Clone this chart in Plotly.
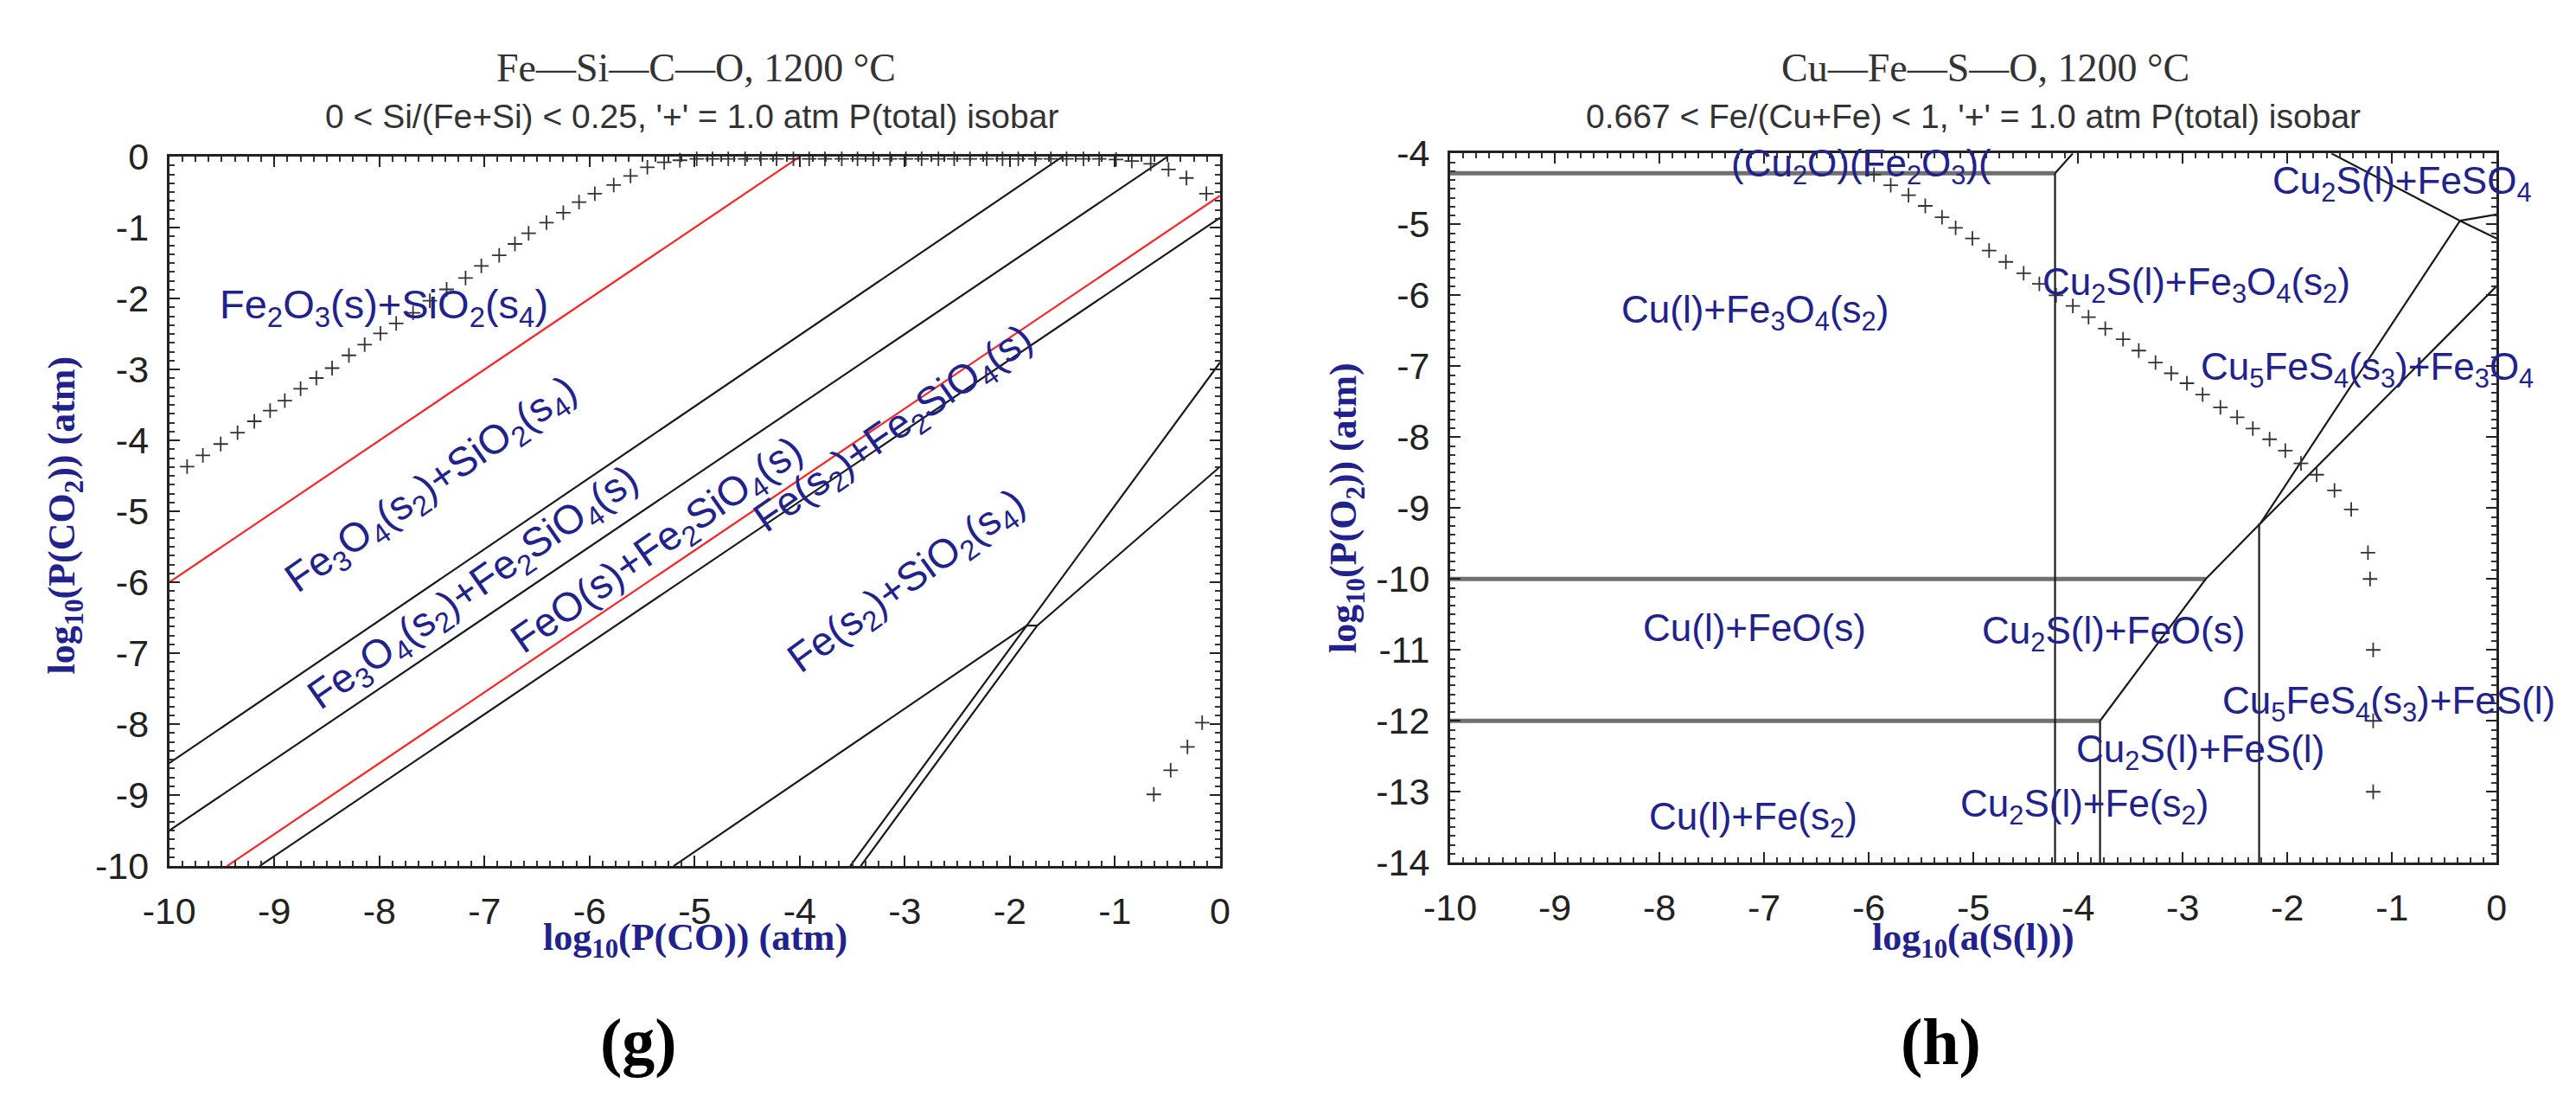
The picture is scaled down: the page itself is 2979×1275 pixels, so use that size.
import plotly.graph_objects as go

W, H = 2979, 1275

# ---------------- data: panel (g) Fe-Si-C-O ----------------
g_red1_x = [-10, -4.0]
g_red1_y = [-6.0, 0.0]
g_red2_x = [-9.45, 0.0]
g_red2_y = [-10.0, -0.55]
g_lineA_x = [-10, -1.5]
g_lineA_y = [-8.55, 0.0]
g_lineB_x = [-10, -0.5]
g_lineB_y = [-9.5, 0.0]
g_lineC_x = [-9.14, 0.0]
g_lineC_y = [-10.0, -0.86]
g_lineD_x = [-5.2, -1.84]
g_lineD_y = [-10.0, -6.61]
g_lineE_x = [-3.52, -1.84, 0.0]
g_lineE_y = [-10.0, -6.61, -2.9]
g_lineF_x = [-3.42, -1.74, 0.0]
g_lineF_y = [-10.0, -6.61, -4.37]
g_lineG_x = [-1.84, -1.74]
g_lineG_y = [-6.61, -6.61]

g_iso_x = [-9.83, -9.68, -9.51, -9.35, -9.19, -9.04, -8.90, -8.75, -8.60, -8.45,
           -8.29, -8.14, -7.99, -7.84, -7.68, -7.52, -7.36, -7.18, -7.03, -6.86,
           -6.71, -6.58, -6.41, -6.25, -6.10, -5.95, -5.77, -5.61, -5.45, -5.29,
           -5.14, -4.98, -4.83, -4.68, -4.52, -4.37, -4.22, -4.06, -3.91, -3.76,
           -3.60, -3.45, -3.30, -3.14, -2.99, -2.84, -2.68, -2.53, -2.38, -2.22,
           -2.07, -1.92, -1.76, -1.61, -1.46, -1.30, -1.15, -0.99, -0.84, -0.66,
           -0.49, -0.32, -0.13, -0.63, -0.47, -0.31, -0.17]
g_iso_y = [-4.37, -4.21, -4.05, -3.89, -3.73, -3.58, -3.44, -3.27, -3.12, -2.98,
           -2.80, -2.65, -2.49, -2.35, -2.20, -2.03, -1.87, -1.71, -1.54, -1.39,
           -1.23, -1.08, -0.93, -0.79, -0.64, -0.52, -0.40, -0.27, -0.15, -0.08,
           -0.05, -0.03, -0.03, -0.03, -0.03, -0.03, -0.03, -0.03, -0.03, -0.03,
           -0.03, -0.03, -0.03, -0.03, -0.03, -0.03, -0.03, -0.03, -0.03, -0.03,
           -0.03, -0.03, -0.03, -0.03, -0.03, -0.03, -0.03, -0.04, -0.06, -0.10,
           -0.18, -0.30, -0.52, -8.99, -8.65, -8.32, -7.98]

g_labels = ["Fe<sub>2</sub>O<sub>3</sub>(s)+SiO<sub>2</sub>(s<sub>4</sub>)",
            "Fe<sub>3</sub>O<sub>4</sub>(s<sub>2</sub>)+SiO<sub>2</sub>(s<sub>4</sub>)",
            "Fe<sub>3</sub>O<sub>4</sub>(s<sub>2</sub>)+Fe<sub>2</sub>SiO<sub>4</sub>(s)",
            "FeO(s)+Fe<sub>2</sub>SiO<sub>4</sub>(s)",
            "Fe(s<sub>2</sub>)+Fe<sub>2</sub>SiO<sub>4</sub>(s)",
            "Fe(s<sub>2</sub>)+SiO<sub>2</sub>(s<sub>4</sub>)"]
g_label_x = [-7.96, -7.50, -7.10, -5.35, -3.10, -2.97]
g_label_y = [-2.12, -4.65, -6.10, -5.50, -3.85, -6.00]
g_label_angle = [0, -35, -35, -35, -35, -36]

# ---------------- data: panel (h) Cu-Fe-S-O ----------------
h_gray_x = [[-10, -4.22], [-10, -2.78], [-10, -3.79]]
h_gray_y = [[-4.28, -4.28], [-10.0, -10.0], [-12.0, -12.0]]
h_black_x = [[-4.22, -4.05], [-4.22, -4.22], [-3.79, -3.79], [-2.27, -2.27],
             [-3.79, -2.78, -2.26, 0.0], [-2.26, -0.35], [-1.58, -0.35, 0.0],
             [-0.35, 0.0]]
h_black_y = [[-4.28, -4.0], [-4.28, -14.0], [-12.0, -14.0], [-9.22, -14.0],
             [-12.0, -10.0, -9.22, -5.87], [-9.22, -4.95], [-4.0, -4.95, -5.2],
             [-4.95, -4.86]]

h_iso_x = [-5.95, -5.79, -5.62, -5.46, -5.30, -5.17, -5.01, -4.85, -4.69, -4.52,
           -4.37, -4.21, -4.05, -3.90, -3.74, -3.57, -3.42, -3.26, -3.11, -2.96,
           -2.81, -2.64, -2.48, -2.33, -2.17, -2.02, -1.87, -1.72, -1.55, -1.39,
           -1.23, -1.21, -1.18, -1.18, -1.18]
h_iso_y = [-4.30, -4.45, -4.59, -4.74, -4.90, -5.05, -5.20, -5.37, -5.53, -5.69,
           -5.84, -6.00, -6.15, -6.31, -6.47, -6.62, -6.78, -6.95, -7.10, -7.24,
           -7.40, -7.58, -7.72, -7.88, -8.03, -8.19, -8.37, -8.53, -8.75, -9.02,
           -9.63, -10.0, -11.0, -12.0, -13.0]

h_labels = ["(Cu<sub>2</sub>O)(Fe<sub>2</sub>O<sub>3</sub>)(",
            "Cu<sub>2</sub>S(l)+FeSO<sub>4</sub>",
            "Cu<sub>2</sub>S(l)+Fe<sub>3</sub>O<sub>4</sub>(s<sub>2</sub>)",
            "Cu(l)+Fe<sub>3</sub>O<sub>4</sub>(s<sub>2</sub>)",
            "Cu<sub>5</sub>FeS<sub>4</sub>(s<sub>3</sub>)+Fe<sub>3</sub>O<sub>4</sub>",
            "Cu(l)+FeO(s)",
            "Cu<sub>2</sub>S(l)+FeO(s)",
            "Cu<sub>5</sub>FeS<sub>4</sub>(s<sub>3</sub>)+FeS(l)",
            "Cu<sub>2</sub>S(l)+FeS(l)",
            "Cu(l)+Fe(s<sub>2</sub>)",
            "Cu<sub>2</sub>S(l)+Fe(s<sub>2</sub>)"]
h_label_x = [-6.07, -0.90, -2.87, -7.09, -1.24, -7.09, -3.66, -1.03, -2.83, -7.10, -3.94]
h_label_y = [-4.18, -4.42, -5.85, -6.24, -7.05, -10.69, -10.76, -11.75, -12.43, -13.39, -13.21]

x_tick_vals = [-10, -9, -8, -7, -6, -5, -4, -3, -2, -1, 0]
x_tick_text = ["-10", "-9", "-8", "-7", "-6", "-5", "-4", "-3", "-2", "-1", "0"]
g_y_tick_vals = [0, -1, -2, -3, -4, -5, -6, -7, -8, -9, -10]
g_y_tick_text = ["0", "-1", "-2", "-3", "-4", "-5", "-6", "-7", "-8", "-9", "-10"]
h_y_tick_vals = [-4, -5, -6, -7, -8, -9, -10, -11, -12, -13, -14]
h_y_tick_text = ["-4", "-5", "-6", "-7", "-8", "-9", "-10", "-11", "-12", "-13", "-14"]

# ---------------- styling ----------------
NAVY = "#22228c"
SANS = "Liberation Sans, Arial, sans-serif"
SERIF = "Liberation Serif, Times New Roman, serif"
G_LABEL_SIZE = 47
H_LABEL_SIZE = 44


def px(x):
    return x / W


def py(y):
    return 1 - y / H


fig = go.Figure()


def line(xs, ys, color, width, xa, ya):
    fig.add_trace(go.Scatter(x=xs, y=ys, mode="lines", xaxis=xa, yaxis=ya,
                             line=dict(color=color, width=width),
                             showlegend=False, hoverinfo="skip"))


# panel g
for xs, ys in [(g_red1_x, g_red1_y), (g_red2_x, g_red2_y)]:
    line(xs, ys, "#ff2020", 2.2, "x", "y")
for xs, ys in [(g_lineA_x, g_lineA_y), (g_lineB_x, g_lineB_y), (g_lineC_x, g_lineC_y),
               (g_lineD_x, g_lineD_y), (g_lineE_x, g_lineE_y), (g_lineF_x, g_lineF_y),
               (g_lineG_x, g_lineG_y)]:
    line(xs, ys, "#1a1a1a", 2.2, "x", "y")
fig.add_trace(go.Scatter(x=g_iso_x, y=g_iso_y, mode="markers", xaxis="x", yaxis="y",
                         marker=dict(symbol="cross-thin", size=12, color="#333333",
                                     line=dict(width=1.8, color="#333333")),
                         showlegend=False, hoverinfo="skip", cliponaxis=False))

# panel h
for xs, ys in zip(h_gray_x, h_gray_y):
    line(xs, ys, "#707070", 5, "x2", "y2")
for xs, ys in zip(h_black_x, h_black_y):
    line(xs, ys, "#1a1a1a", 2.2, "x2", "y2")
fig.add_trace(go.Scatter(x=h_iso_x, y=h_iso_y, mode="markers", xaxis="x2", yaxis="y2",
                         marker=dict(symbol="cross-thin", size=12, color="#333333",
                                     line=dict(width=1.8, color="#333333")),
                         showlegend=False, hoverinfo="skip", cliponaxis=False))

annotations = []
for t, x, y, a in zip(g_labels, g_label_x, g_label_y, g_label_angle):
    annotations.append(dict(text=t, x=x, y=y, xref="x", yref="y", showarrow=False,
                            textangle=a, font=dict(family=SANS, size=G_LABEL_SIZE, color=NAVY)))
for t, x, y in zip(h_labels, h_label_x, h_label_y):
    annotations.append(dict(text=t, x=x, y=y, xref="x2", yref="y2", showarrow=False,
                            font=dict(family=SANS, size=H_LABEL_SIZE, color=NAVY)))


def paper_text(text, x, y, family, size, color, angle=0):
    annotations.append(dict(text=text, x=px(x), y=py(y), xref="paper", yref="paper",
                            showarrow=False, textangle=angle, xanchor="center", yanchor="middle",
                            font=dict(family=family, size=size, color=color)))


paper_text("Fe\u2014Si\u2014C\u2014O, 1200 \u00b0C", 777, 48, SERIF, 46, "#333333")
paper_text("0 < Si/(Fe+Si) < 0.25, '+' = 1.0 atm P(total) isobar", 772, 106, SANS, 39, "#333333")
paper_text("Cu\u2014Fe\u2014S\u2014O, 1200 \u00b0C", 2290, 48, SERIF, 46, "#333333")
paper_text("0.667 < Fe/(Cu+Fe) < 1, '+' = 1.0 atm P(total) isobar", 2276, 106, SANS, 39, "#333333")
paper_text("<b>log<sub>10</sub>(P(CO)) (atm)</b>", 776, 1096, SERIF, 44, NAVY)
paper_text("<b>log<sub>10</sub>(P(CO<sub>2</sub>)) (atm)</b>", 37, 585, SERIF, 44, NAVY, -90)
paper_text("<b>log<sub>10</sub>(a(S(l)))</b>", 2276, 1096, SERIF, 44, NAVY)
paper_text("<b>log<sub>10</sub>(P(O<sub>2</sub>)) (atm)</b>", 1540, 577, SERIF, 44, NAVY, -90)
paper_text("<b>(g)</b>", 710, 1218, SERIF, 76, "#000000")
paper_text("<b>(h)</b>", 2238, 1218, SERIF, 76, "#000000")


def axis(domain, rng, tv, tt, anchor):
    return dict(domain=domain, range=rng, anchor=anchor, tickmode="array",
                tickvals=tv, ticktext=tt, ticks="inside", ticklen=12, tickwidth=2,
                tickcolor="#222222", showline=True, linecolor="#222222", linewidth=3,
                mirror="ticks", showgrid=False, zeroline=False,
                tickfont=dict(family=SANS, size=43, color="#222222"),
                ticklabelstandoff=12,
                minor=dict(dtick=0.125, tick0=0, ticks="inside", ticklen=6,
                           tickwidth=1.5, tickcolor="#333333", showgrid=False))


fig.update_layout(
    width=W, height=H, margin=dict(l=0, r=0, t=0, b=0),
    paper_bgcolor="white", plot_bgcolor="white",
    xaxis=axis([px(159), px(1392)], [-10, 0], x_tick_vals, x_tick_text, "y"),
    yaxis=axis([py(1007), py(155)], [-10, 0], g_y_tick_vals, g_y_tick_text, "x"),
    xaxis2=axis([px(1662), px(2890)], [-10, 0], x_tick_vals, x_tick_text, "y2"),
    yaxis2=axis([py(1003), py(151)], [-14, -4], h_y_tick_vals, h_y_tick_text, "x2"),
    annotations=annotations,
)

fig.write_html("out.html")
